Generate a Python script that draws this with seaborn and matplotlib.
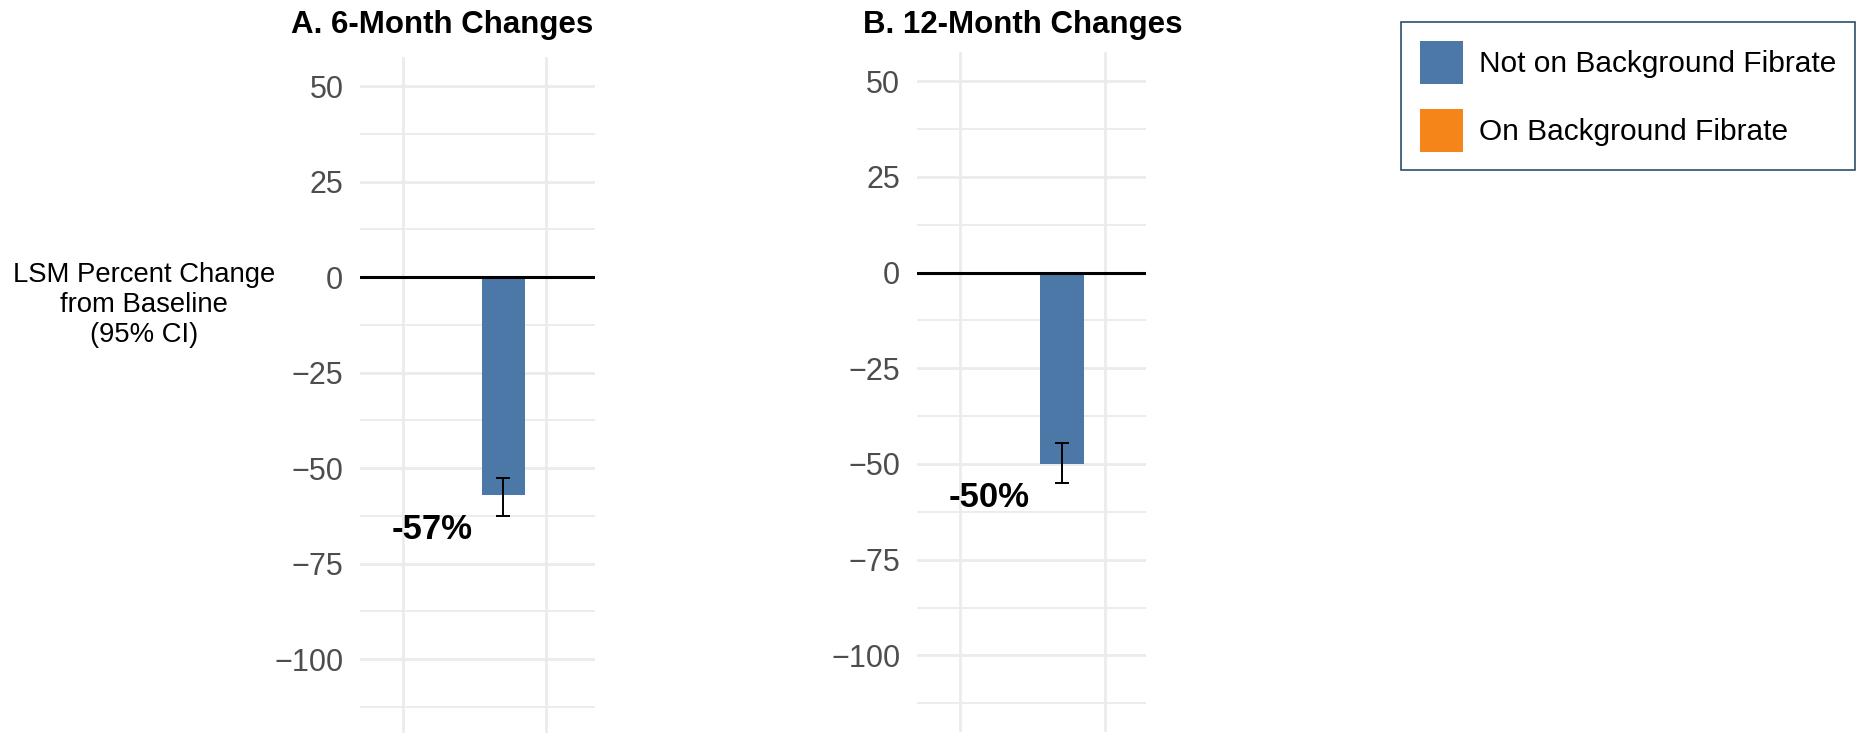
import numpy as np
import pandas as pd
import matplotlib.pyplot as plt
from matplotlib.patches import Patch
from matplotlib.ticker import FixedLocator
import seaborn as sns

# values (Not on Background Fibrate)
panel_titles = ["A. 6-Month Changes", "B. 12-Month Changes"]
lsm_change = [-57, -50]
ci_low = [-62.5, -55.0]
ci_high = [-52.5, -44.5]
groups = ["Not on Background Fibrate", "On Background Fibrate"]
group_colors = ["#4c78a8", "#f58518"]
yticks = [50, 25, 0, -25, -50, -75, -100]

sns.set_theme(style="white")
plt.rcParams["font.family"] = ["Liberation Sans", "DejaVu Sans"]
plt.rcParams["text.color"] = "black"
plt.rcParams["axes.unicode_minus"] = True

fig = plt.figure(figsize=(18.74, 7.33), dpi=100)

# layout of the two panels (figure fraction)
boxes = [[0.1921, -0.0033, 0.1254, 0.9255], [0.4893, 0.0014, 0.1222, 0.9277]]
x_right = [2.34, 2.28]
title_x = [0.2361, 0.5459]
bar_x = 1.7
label_x = 1.2

for i in range(2):
    ax = fig.add_axes(boxes[i])
    df = pd.DataFrame({"x": [bar_x], "change": [lsm_change[i]]})
    sns.barplot(data=df, x="x", y="change", native_scale=True, width=0.3,
                color=group_colors[0], saturation=1, errorbar=None,
                linewidth=0, ax=ax, zorder=2)
    ax.errorbar(bar_x, lsm_change[i],
                yerr=[[lsm_change[i] - ci_low[i]], [ci_high[i] - lsm_change[i]]],
                fmt="none", ecolor="black", elinewidth=1.4, capsize=5.3,
                capthick=1.4, zorder=4)
    ax.axhline(0, color="black", lw=2.2, zorder=3)
    ax.annotate(f"{lsm_change[i]}%", xy=(label_x, ci_low[i]), xytext=(0, -17),
                textcoords="offset points", ha="center", va="baseline",
                fontsize=25, fontweight="bold", color="black", zorder=5)

    ax.set_xlim(0.7, x_right[i])
    ax.set_ylim(-120, 57.6)
    ax.set_xticks([1, 2])
    ax.set_xticklabels([])
    ax.set_yticks(yticks)
    ax.set_yticklabels([f"{t:d}".replace("-", "\u2212") for t in yticks])
    ax.yaxis.set_minor_locator(FixedLocator(np.arange(-112.5, 60, 25)))
    ax.grid(which="major", color="#ebebeb", lw=2)
    ax.grid(which="minor", axis="y", color="#ebebeb", lw=1.3)
    ax.set_axisbelow(True)
    ax.tick_params(axis="both", which="both", length=0)
    ax.tick_params(axis="y", labelsize=22, labelcolor="#4d4d4d", pad=12)
    ax.set_xlabel("")
    ax.set_ylabel("")
    for s in ax.spines.values():
        s.set_visible(False)

    fig.text(title_x[i], 0.955, panel_titles[i], ha="center", va="baseline",
             fontsize=22.5, fontweight="bold", color="black")

fig.text(0.0768, 0.584, "LSM Percent Change\nfrom Baseline\n(95% CI)",
         ha="center", va="center", fontsize=19.8, linespacing=1.22,
         color="black")

handles = [Patch(facecolor=c, edgecolor="none", label=g)
           for g, c in zip(groups, group_colors)]
leg = fig.legend(handles=handles, loc="upper left",
                 bbox_to_anchor=(1401 / 1874, 1 - 22 / 733),
                 bbox_transform=fig.transFigure, frameon=True, fancybox=False,
                 edgecolor="#2c4f6b", framealpha=1, fontsize=21.5,
                 handlelength=1.44, handleheight=1.84, handletextpad=0.55,
                 labelspacing=0.84, borderpad=0.62, borderaxespad=0)
leg.get_frame().set_linewidth(1.2)
for t in leg.get_texts():
    t.set_color("black")

fig.savefig("out.png", dpi=100)
